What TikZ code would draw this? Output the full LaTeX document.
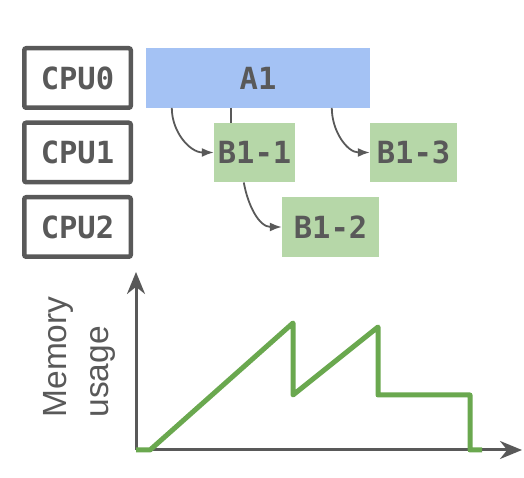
\documentclass[tikz,border=0pt]{standalone}
\usepackage{fontspec}
\setmonofont{DejaVu Sans Mono}
\setsansfont{Liberation Sans}
\usetikzlibrary{arrows.meta}
\definecolor{darkgrey}{HTML}{595959}
\definecolor{taskblue}{HTML}{A4C2F4}
\definecolor{taskgreen}{HTML}{B6D7A8}
\definecolor{memgreen}{HTML}{6AA84F}

\begin{document}
\begin{tikzpicture}[x=1pt,y=1pt,
    label font/.style={font=\fontsize{30.5}{36}\selectfont\ttfamily\bfseries,text=darkgrey},
    cpu/.style={label font,draw=darkgrey,line width=4.5pt,rounded corners=2pt,
        minimum width=106.5pt,minimum height=59.5pt,inner sep=0pt},
    task/.style={label font,inner sep=0pt,minimum height=59.5pt},
    spawn/.style={draw=darkgrey,line width=1.8pt,-{Latex[length=12pt,width=9pt]}},
    axis/.style={draw=darkgrey,line width=3pt,-{Stealth[length=22pt,width=18pt]}}]
    \useasboundingbox (0,0) rectangle (524,478);
    % cpus
    \node[cpu] (cpu0) at (77.5,400){CPU0};
    \node[cpu] (cpu1) at (77.5,325.5){CPU1};
    \node[cpu] (cpu2) at (77.5,251){CPU2};
    % tasks
    \node[task,fill=taskblue,minimum width=224pt] (a1) at (258,400){A1};
    \node[task,fill=taskgreen,minimum width=81pt] (b11) at (254.5,325.5){B1-1};
    \node[task,fill=taskgreen,minimum width=87pt] (b13) at (413.5,325.5){B1-3};
    \node[task,fill=taskgreen,minimum width=97pt] (b12) at (330.5,251){B1-2};
    \coordinate (join) at ([xshift=85pt]a1.south west);
    \draw[spawn] ([xshift=26pt]a1.south west) to[out=-90,in=180] (b11.west);
    \draw[draw=darkgrey,line width=1.8pt] (join) -- (join |- b11.north);
    \draw[spawn] ([xshift=186pt]a1.south west) to[out=-90,in=180] (b13.west);
    \draw[spawn] ([xshift=30pt]b11.south west) to[out=-80,in=180] (b12.west);
    % memory plot
    \coordinate (origin) at (136,28);
    \coordinate (ytip) at (136,206);
    \coordinate (xtip) at (522,28);
    \draw[axis] (origin) -- (ytip);
    \draw[axis] (origin) -- (xtip);
    \node[rotate=90,align=left,inner sep=0pt,text=darkgrey,
        font=\fontsize{33.5}{42}\selectfont\sffamily] (memlabel) at (79,121){Memory\\usage};
    \draw[memgreen,line width=5pt,line join=round](136,28)--(150,28)--(293,155)--(293,83)--(378,151)--(378,83)--(470,83)--(470,28)--(482,28);
\end{tikzpicture}
\end{document}
